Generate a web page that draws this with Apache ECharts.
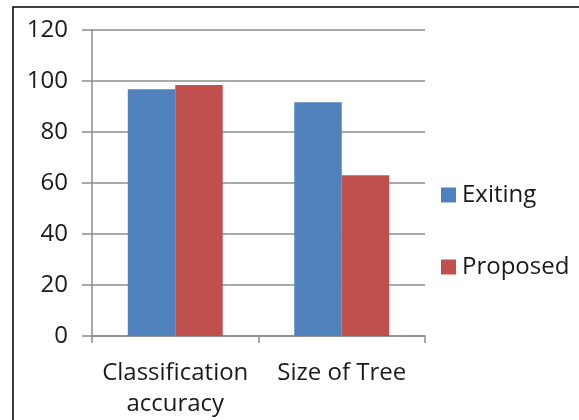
<!DOCTYPE html>
<html>
<head>
<meta charset="utf-8">
<script src="https://cdn.jsdelivr.net/npm/echarts@6/dist/echarts.min.js"></script>
<style>
  html, body { margin: 0; padding: 0; background: #fff; }
  #main { width: 579px; height: 420px; }
</style>
</head>
<body>
<div id="main"></div>
<script>
// categories and values
var categories = ["Classification\naccuracy", "Size of Tree"];
var exiting = [96.8, 91.7];
var proposed = [98.4, 63.0];
var yTicks = { min: 0, max: 120, interval: 20 };

var chart = echarts.init(document.getElementById("main"));

var font = "'Open Sans', 'Noto Sans', sans-serif";

var option = {
    animation: false,
    backgroundColor: "#fff",
    textStyle: { fontFamily: font },
    graphic: [{
        type: "rect",
        shape: { x: 13, y: 7, width: 580, height: 430 },
        style: { fill: "none", stroke: "#000", lineWidth: 1.5 },
        silent: true
    }],
    grid: { left: 92, right: 154, top: 30, bottom: 83, containLabel: false },
    legend: {
        orient: "vertical",
        left: 441,
        top: 183,
        padding: 0,
        itemGap: 48,
        itemWidth: 15,
        itemHeight: 15,
        icon: "rect",
        textStyle: { fontSize: 24, color: "#1a1a1a", fontFamily: font, padding: [0, 0, 0, 1] },
        data: ["Exiting", "Proposed"]
    },
    xAxis: {
        type: "category",
        data: categories,
        axisLine: { lineStyle: { color: "#8c8c8c", width: 1.5 } },
        axisTick: { show: true, length: 7, alignWithLabel: false, lineStyle: { color: "#8c8c8c", width: 1.5 } },
        axisLabel: { fontSize: 24, color: "#1a1a1a", lineHeight: 31, margin: 22, fontFamily: font, interval: 0 }
    },
    yAxis: {
        type: "value",
        min: yTicks.min,
        max: yTicks.max,
        interval: yTicks.interval,
        axisLine: { show: true, lineStyle: { color: "#8c8c8c", width: 1.5 } },
        axisTick: { show: true, length: 10, lineStyle: { color: "#8c8c8c", width: 1.5 } },
        axisLabel: { fontSize: 24, color: "#1a1a1a", margin: 24, fontFamily: font },
        splitLine: { show: true, lineStyle: { color: "#8c8c8c", width: 1.5 } }
    },
    series: [{
        name: "Exiting",
        type: "bar",
        data: exiting,
        barGap: "0%",
        barCategoryGap: "43%",
        itemStyle: { color: "#4F81BD" }
    }, {
        name: "Proposed",
        type: "bar",
        data: proposed,
        barGap: "0%",
        barCategoryGap: "43%",
        itemStyle: { color: "#C0504D" }
    }]
};

chart.setOption(option);
</script>
</body>
</html>
